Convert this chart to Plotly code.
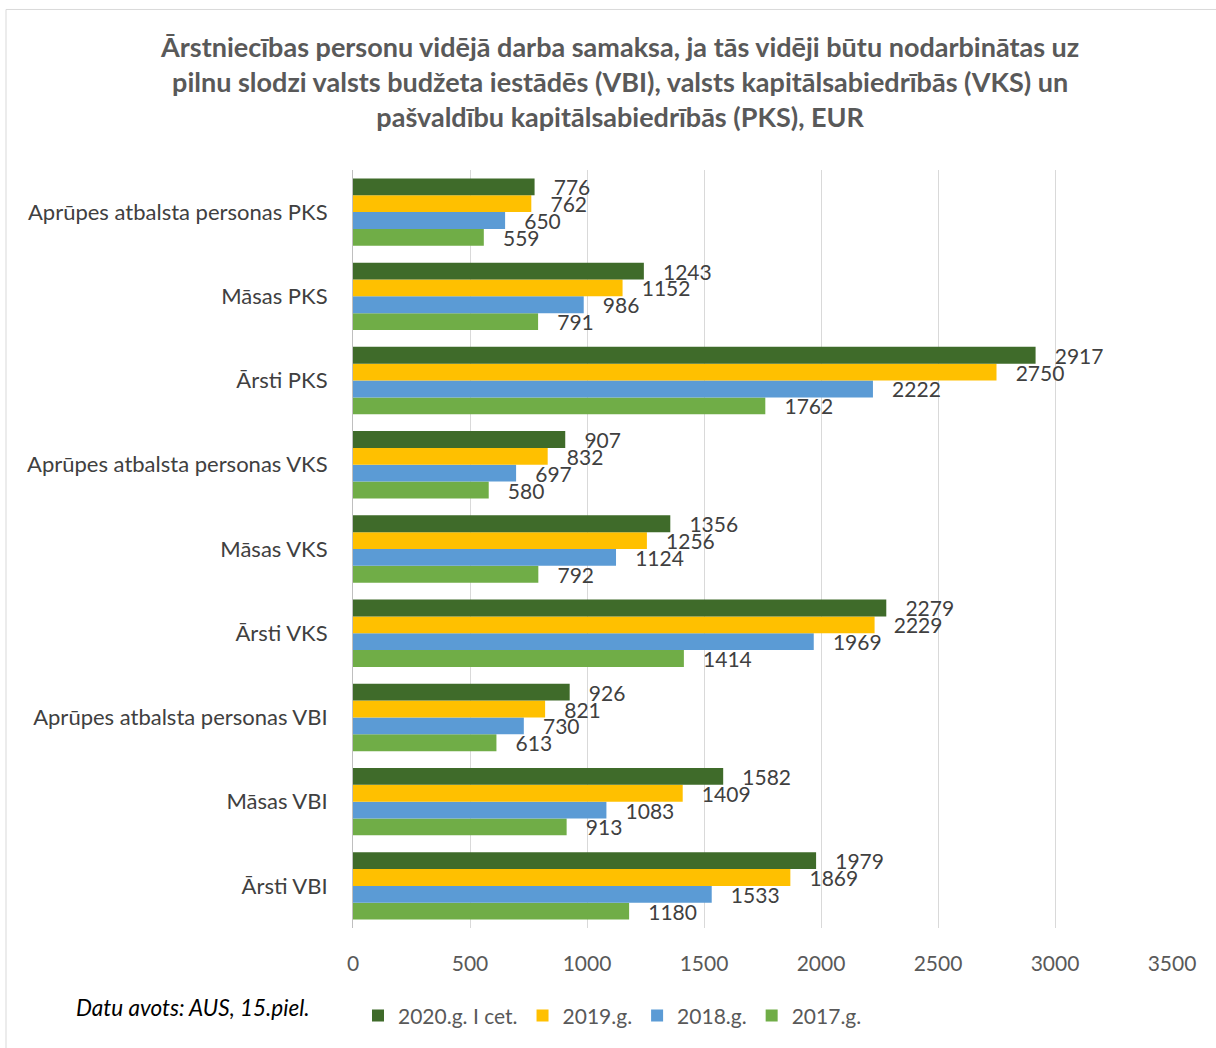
import plotly.graph_objects as go

categories = [
    "Ārsti VBI",
    "Māsas VBI",
    "Aprūpes atbalsta personas VBI",
    "Ārsti VKS",
    "Māsas VKS",
    "Aprūpes atbalsta personas VKS",
    "Ārsti PKS",
    "Māsas PKS",
    "Aprūpes atbalsta personas PKS",
]
y2017 = [1180, 913, 613, 1414, 792, 580, 1762, 791, 559]
y2018 = [1533, 1083, 730, 1969, 1124, 697, 2222, 986, 650]
y2019 = [1869, 1409, 821, 2229, 1256, 832, 2750, 1152, 762]
y2020 = [1979, 1582, 926, 2279, 1356, 907, 2917, 1243, 776]

series = [
    ("2017.g.", y2017, "#70AD47"),
    ("2018.g.", y2018, "#5B9BD5"),
    ("2019.g.", y2019, "#FFC000"),
    ("2020.g. I cet.", y2020, "#3F6B2A"),
]

FONT = "Lato, Open Sans, sans-serif"

fig = go.Figure()
for name, vals, col in series:
    fig.add_trace(go.Bar(
        y=categories, x=vals, name=name, orientation="h",
        marker=dict(color=col, line=dict(width=0)),
        texttemplate="\u00a0\u00a0\u00a0%{x}", textposition="outside",
        textfont=dict(size=21, color="#404040", family=FONT),
        constraintext="none", cliponaxis=False,
    ))

fig.update_layout(
    width=1216, height=1048,
    paper_bgcolor="white", plot_bgcolor="white",
    margin=dict(l=353, r=44, t=170, b=113),
    barmode="group", bargap=0.2, bargroupgap=0,
    font=dict(family=FONT, color="#595959"),
    title=dict(
        text="Ārstniecības personu vidējā darba samaksa, ja tās vidēji būtu nodarbinātas uz<br>"
             "pilnu slodzi valsts budžeta iestādēs (VBI), valsts kapitālsabiedrībās (VKS) un<br>"
             "pašvaldību kapitālsabiedrībās (PKS), EUR",
        x=0.51, xanchor="center", y=1 - 57 / 1048, yanchor="top",
        font=dict(size=27, color="#595959", family=FONT, weight="bold"),
    ),
    xaxis=dict(
        range=[0, 3500], dtick=500, showgrid=True, gridcolor="#D9D9D9", gridwidth=1,
        zeroline=False, showline=False,
        tickfont=dict(size=21, color="#595959"), ticks="", ticklabelstandoff=21,
    ),
    yaxis=dict(
        showline=True, linecolor="#BFBFBF", linewidth=1, showgrid=False,
        tickfont=dict(size=22, color="#404040"), ticks="", ticklabelstandoff=20,
    ),
    legend=dict(
        orientation="h", x=(358 - 353) / 819, xanchor="left", y=-(1003 - 935) / 765, yanchor="top",
        traceorder="reversed", font=dict(size=21, color="#595959"),
    ),
    showlegend=True,
)

fig.add_annotation(
    text="<i>Datu avots: AUS, 15.piel.</i>", xref="paper", yref="paper",
    x=(74 - 353) / 819, y=-(1015 - 935) / 765, xanchor="left", yanchor="middle",
    showarrow=False, font=dict(size=22.5, color="#000000", family=FONT),
)

fig.add_shape(
    type="rect", xref="paper", yref="paper",
    x0=(6 - 353) / 819, x1=1.2, y0=-0.3, y1=1 + (170 - 8) / 765,
    line=dict(color="#D9D9D9", width=1), fillcolor="rgba(0,0,0,0)", layer="below",
)

fig.write_html("out.html", post_script="document.body.style.margin='0';",
               config={"displayModeBar": False})
